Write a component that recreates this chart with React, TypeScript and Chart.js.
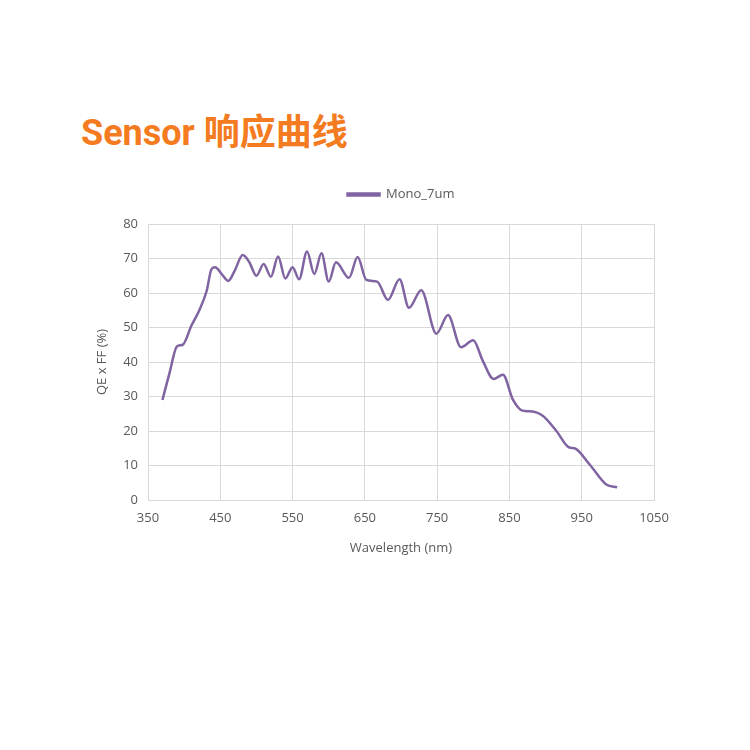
import { useEffect, useRef } from 'react';
import { Chart, registerables } from 'chart.js';

Chart.register(...registerables);

const seriesName = 'Mono_7um';
const wavelengths = [
    370, 380, 390, 398, 410, 421, 431, 438, 443, 452, 461, 470, 481, 490, 500,
    510, 520, 530, 540, 550, 559, 570, 580, 590, 600, 610, 628, 640, 652, 667,
    682, 698, 711, 728, 749, 765, 783, 800, 813, 828, 841, 855, 868, 879, 896,
    915, 933, 940, 961, 984, 999,
];
const qeValues = [
    29, 37, 44.5, 45, 50.5, 55, 60.5, 67, 67.5, 65.5, 63.5, 66.5, 71, 69, 65,
    68.4, 64.7, 70.6, 64.2, 67.5, 64, 72, 65.5, 71.5, 63.3, 68.9, 64.4, 70.4, 63.8, 63.3,
    58, 64, 55.7, 60.8, 48.2, 53.6, 44.3, 46.3, 40.4, 35.1, 36.3, 29, 25.9, 25.7, 24.4,
    20, 15.2, 15, 10.3, 4.5, 3.7,
];
const xTicks = [350, 450, 550, 650, 750, 850, 950, 1050];
const yTicks = [0, 10, 20, 30, 40, 50, 60, 70, 80];

const textGray = '#595959';
const gridGray = '#d9d9d9';
const lineColor = '#8064a2';

// push the plot down a bit under the legend
const legendMargin = {
    id: 'legendMargin',
    beforeInit(chart: any) {
        const legend = chart.legend;
        if (!legend) return;
        const fit = legend.fit;
        legend.fit = function () {
            fit.call(this);
            this.height += 13;
        };
    }
};

const App = () => {
    const chartRef = useRef<HTMLCanvasElement | null>(null);
    const chartInstanceRef = useRef<Chart | null>(null);

    useEffect(() => {
        if (!chartRef.current) return;

        chartInstanceRef.current = new Chart(chartRef.current, {
            type: 'line',
            data: {
                datasets: [{
                    label: seriesName,
                    data: wavelengths.map((w, i) => ({ x: w, y: qeValues[i] })),
                    borderColor: lineColor,
                    backgroundColor: lineColor,
                    borderWidth: 2.5,
                    pointRadius: 0,
                    cubicInterpolationMode: 'monotone',
                }]
            },
            plugins: [legendMargin],
            options: {
                responsive: false,
                animation: false,
                devicePixelRatio: 1,
                layout: {
                    padding: { left: 90, right: 96, top: 178, bottom: 190 }
                },
                plugins: {
                    legend: {
                        position: 'top',
                        fullSize: false,
                        labels: {
                            boxWidth: 32,
                            boxHeight: 2,
                            padding: 10,
                            color: textGray,
                            font: { family: "'Open Sans', sans-serif", size: 13 },
                        }
                    },
                    tooltip: { enabled: false },
                },
                scales: {
                    x: {
                        type: 'linear',
                        min: 350,
                        max: 1050,
                        afterBuildTicks: (scale: any) => {
                            scale.ticks = xTicks.map(v => ({ value: v }));
                        },
                        afterFit: (scale: any) => { scale.height = 60; },
                        grid: { color: gridGray, drawTicks: false, lineWidth: 1 },
                        border: { color: gridGray },
                        ticks: {
                            padding: 10,
                            color: textGray,
                            font: { family: "'Open Sans', sans-serif", size: 13 },
                            callback: (v: any) => String(v),
                        },
                        title: {
                            display: true,
                            text: 'Wavelength (nm)',
                            color: textGray,
                            padding: { top: 2 },
                            font: { family: "'Open Sans', sans-serif", size: 13 },
                        }
                    },
                    y: {
                        min: 0,
                        max: 80,
                        afterBuildTicks: (scale: any) => {
                            scale.ticks = yTicks.map(v => ({ value: v }));
                        },
                        afterFit: (scale: any) => { scale.width = 58; },
                        grid: { color: gridGray, drawTicks: false, lineWidth: 1 },
                        border: { color: gridGray },
                        ticks: {
                            padding: 10,
                            color: textGray,
                            font: { family: "'Open Sans', sans-serif", size: 13 },
                        },
                        title: {
                            display: true,
                            text: 'QE x FF (%)',
                            color: textGray,
                            font: { family: "'Open Sans', sans-serif", size: 13 },
                        }
                    }
                }
            }
        });

        return () => {
            if (chartInstanceRef.current) {
                chartInstanceRef.current.destroy();
                chartInstanceRef.current = null;
            }
        };
    }, []);

    return <div style={{ position: 'absolute', left: 0, top: 0, width: 750, height: 750, background: '#fff' }}>
        <div style={{
            position: 'absolute', left: 81, top: 103,
            fontFamily: "Roboto, 'Noto Sans CJK SC', sans-serif",
            fontWeight: 700, fontSize: 36, color: '#f47b20', whiteSpace: 'nowrap',
        }}>Sensor 响应曲线</div>
        <canvas ref={chartRef} width={750} height={750} style={{ position: 'absolute', left: 0, top: 0 }}></canvas>
    </div>
};

export default App;
